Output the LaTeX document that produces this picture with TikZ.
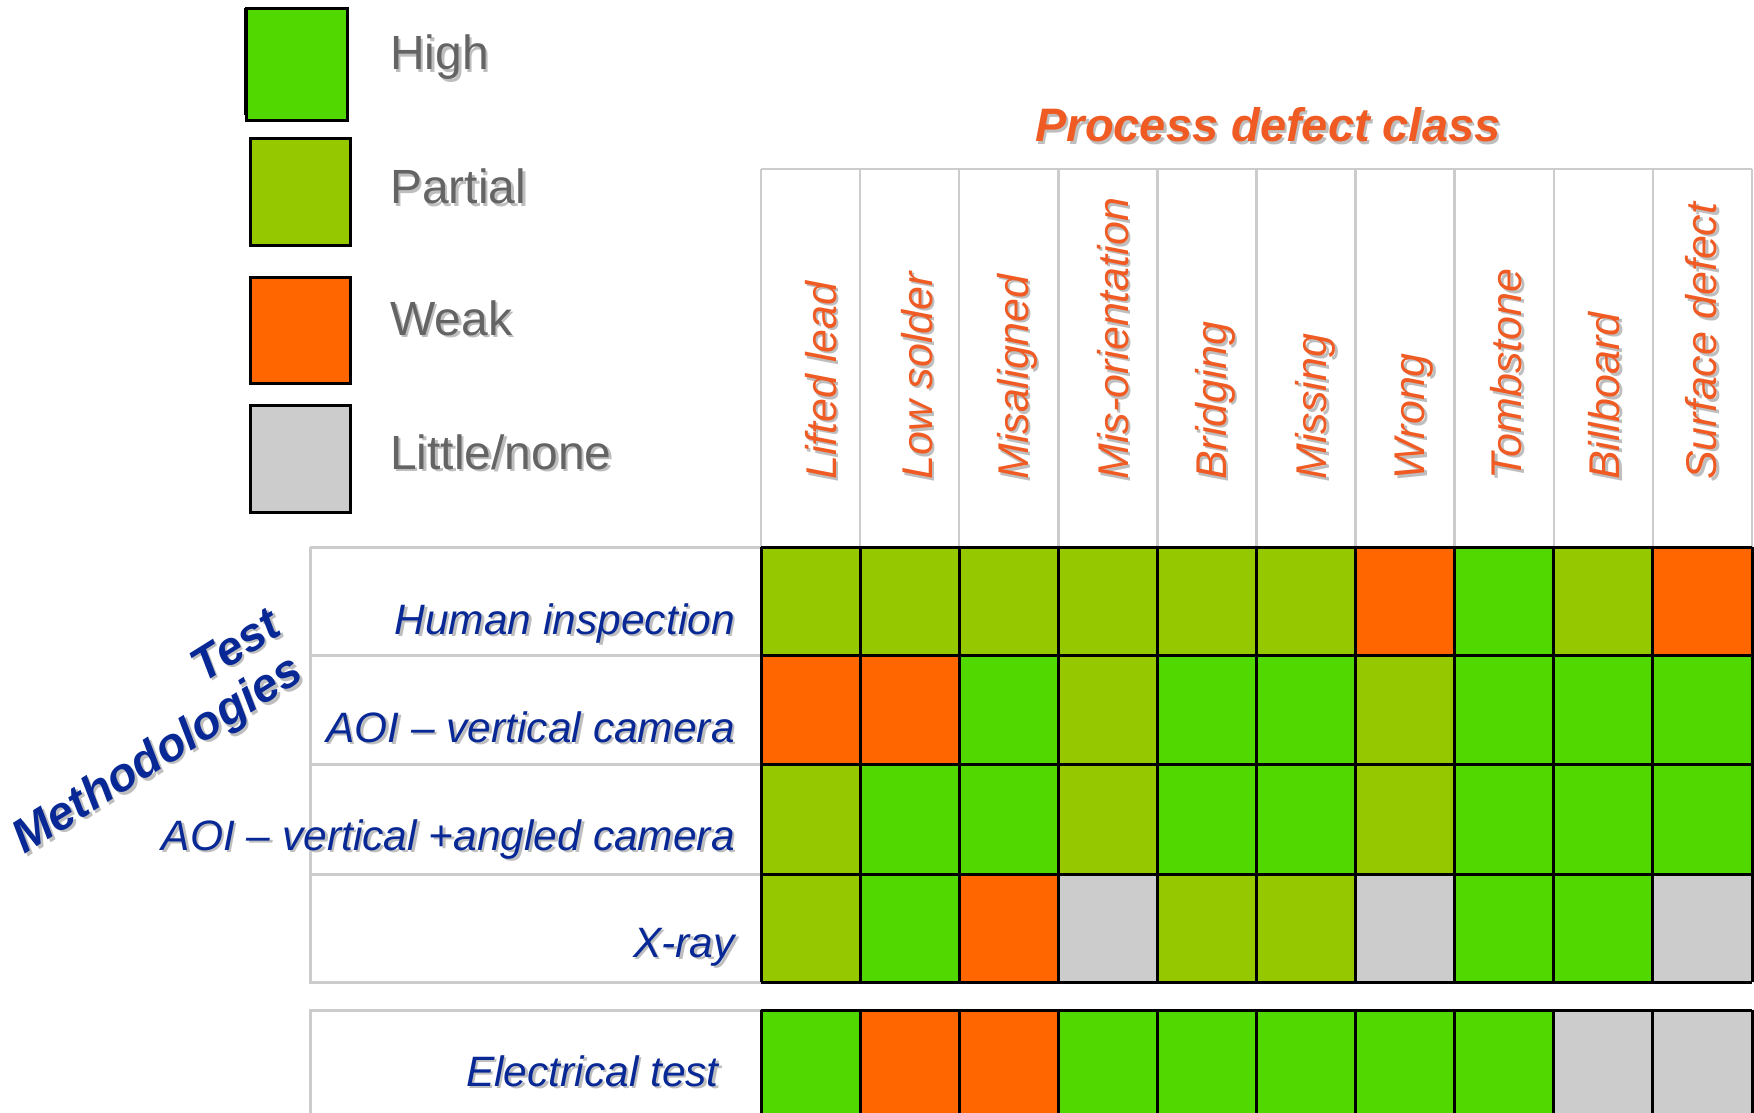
\documentclass[tikz,border=0pt]{standalone}
\usepackage{fontspec}
\setmainfont{Liberation Sans}
\usetikzlibrary{calc}

\definecolor{hi}{RGB}{80,216,0}
\definecolor{pa}{RGB}{150,200,0}
\definecolor{wk}{RGB}{255,102,0}
\definecolor{no}{RGB}{204,204,204}
\definecolor{titleorange}{RGB}{240,90,35}
\definecolor{labelblue}{RGB}{8,40,150}
\definecolor{legendgray}{RGB}{100,100,100}
\definecolor{rulegray}{RGB}{204,204,204}
\definecolor{shade}{RGB}{190,190,190}

% text drawn with a soft grey drop shadow
\newcommand\shadowed[4]{%
  \node[#2, text=shade] (#1-shade) at ($(#3)+(2.5,2.5)$) {#4};
  \node[#2] (#1) at (#3) {#4};
}

\begin{document}
\begin{tikzpicture}[x=1pt,y=-1pt,
  legendtext/.style={inner sep=0pt, anchor=base west, text=legendgray,
    font=\fontsize{48}{54}\selectfont},
  titletext/.style={inner sep=0pt, anchor=base, text=titleorange,
    font=\fontsize{47}{54}\selectfont\bfseries\itshape},
  collabel/.style={inner sep=0pt, anchor=base west, rotate=90, text=titleorange,
    font=\fontsize{43}{50}\selectfont\itshape},
  rowlabel/.style={inner sep=0pt, anchor=base east, text=labelblue,
    font=\fontsize{42.5}{50}\selectfont\itshape},
  sidetitle/.style={inner sep=0pt, anchor=base east, rotate=32, text=labelblue,
    font=\fontsize{47}{52}\selectfont\bfseries\itshape},
  legendbox/.style={draw=black, line width=3pt},
  headrule/.style={draw=rulegray, line width=2.5pt},
  rowrule/.style={draw=rulegray, line width=3pt},
  cellrule/.style={draw=black, line width=3pt},
]
\useasboundingbox (0,0) rectangle (1754,1113);
\clip (0,0) rectangle (1754,1113);

% ---------- legend ----------
\fill[black] (244,8) rectangle (345,115);
\filldraw[legendbox, fill=hi] (246,9) rectangle (347,121);
\filldraw[legendbox, fill=pa] (250,139) rectangle (350,245);
\filldraw[legendbox, fill=wk] (250,277) rectangle (350,383);
\filldraw[legendbox, fill=no] (250,405) rectangle (350,512);

\shadowed{lgHigh}{legendtext}{390,70}{High}
\shadowed{lgPartial}{legendtext}{390,204}{Partial}
\shadowed{lgWeak}{legendtext}{390,335}{Weak}
\shadowed{lgNone}{legendtext}{390,469}{Little/none}

% ---------- title ----------
\shadowed{title}{titletext}{1268,142}{Process defect class}

% ---------- header columns ----------
\draw[headrule] (761,169) -- (1752,169);
\foreach \i in {0,...,10}
  \draw[headrule] (761+99.1*\i,169) -- (761+99.1*\i,547);

\foreach \lab/\off [count=\i from 0] in {Lifted lead/10, Low solder/7,
    Misaligned/4, Mis-orientation/5, Bridging/4, Missing/5, Wrong/4,
    Tombstone/2, Billboard/1, Surface defect/-1} {
  \pgfmathsetmacro\xx{761+99.1*\i+49.55+\off+15.5}
  \shadowed{col\i}{collabel}{\xx,480}{\lab}
}

% ---------- row label frame ----------
\draw[rowrule] (310,547) -- (761,547);
\foreach \yy in {655,764,874}
  \draw[rowrule] (310,\yy) -- (761,\yy);
\draw[rowrule] (761,982) -- (310,982) -- (310,547);
\draw[rowrule] (761,1010) -- (310,1010) -- (310,1130);

\shadowed{rHuman}{rowlabel}{735,634}{Human inspection}
\shadowed{rAOIv}{rowlabel}{735,742}{AOI – vertical camera}
\shadowed{rAOIa}{rowlabel}{735,850}{AOI – vertical +angled camera}
\shadowed{rXray}{rowlabel}{735,957}{X-ray}
\shadowed{rElec}{rowlabel}{719,1086}{Electrical test}

\shadowed{sideB}{sidetitle}{306,679}{Methodologies}
\shadowed{sideA}{sidetitle}{284,633}{Test}

% ---------- rating cells ----------
\foreach \top/\bot/\vals in {
    547/655/{pa,pa,pa,pa,pa,pa,wk,hi,pa,wk},
    655/764/{wk,wk,hi,pa,hi,hi,pa,hi,hi,hi},
    764/874/{pa,hi,hi,pa,hi,hi,pa,hi,hi,hi},
    874/982/{pa,hi,wk,no,pa,pa,no,hi,hi,no},
    1010/1130/{hi,wk,wk,hi,hi,hi,hi,hi,no,no}} {
  \foreach \c [count=\i from 0] in \vals
    \fill[\c] (761+99.1*\i,\top) rectangle (860.1+99.1*\i,\bot);
}

% cell borders
\foreach \yy in {547,655,764,874,982}
  \draw[cellrule] (761,\yy) -- (1752,\yy);
\foreach \i in {0,...,10}
  \draw[cellrule] (761+99.1*\i,547) -- (761+99.1*\i,982);
\draw[cellrule] (761,1010) -- (1752,1010);
\foreach \i in {0,...,10}
  \draw[cellrule] (761+99.1*\i,1010) -- (761+99.1*\i,1130);
\end{tikzpicture}
\end{document}
